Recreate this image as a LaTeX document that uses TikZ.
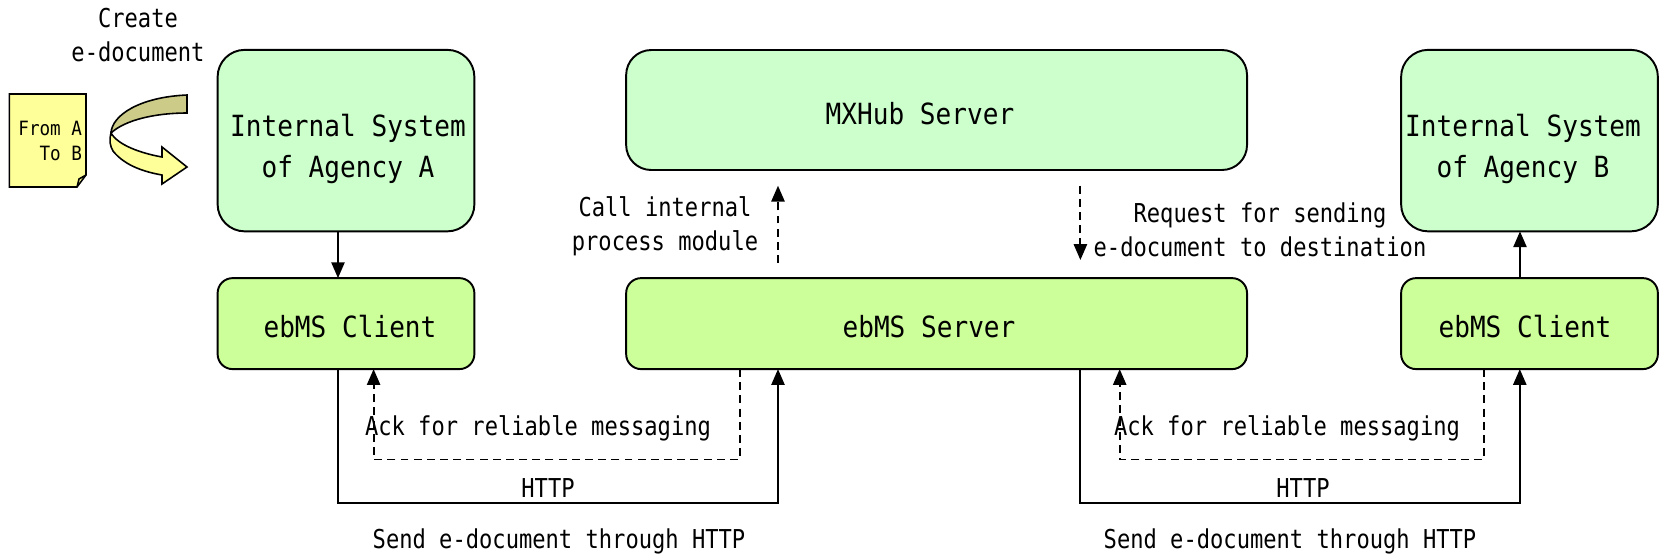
\documentclass[tikz,border=0pt]{standalone}
\usepackage{fontspec}
\newfontfamily\bigf[FakeStretch=0.895]{DejaVu Sans Mono}
\newfontfamily\smf[FakeStretch=0.85]{DejaVu Sans Mono}
\usetikzlibrary{arrows.meta}
\definecolor{sysgreen}{HTML}{CCFFCC}
\definecolor{msgreen}{HTML}{CCFF99}
\definecolor{docyel}{HTML}{FFFF99}
\definecolor{olivebk}{HTML}{CCCC88}
\begin{document}
\begin{tikzpicture}[x=0.02cm,y=-0.02cm,line width=1.1pt,
  bigtext/.style={font=\bigf\fontsize{16.6pt}{23.2pt}\selectfont, inner sep=0pt},
  smtext/.style={font=\smf\fontsize{14.8pt}{19.2pt}\selectfont, inner sep=0pt},
  sysbox/.style={draw, fill=sysgreen, rounded corners=0.54cm, inner sep=0pt, outer sep=0pt,
     minimum width=5.136cm, minimum height=3.63cm},
  mxbox/.style={draw, fill=sysgreen, rounded corners=0.5cm, inner sep=0pt, outer sep=0pt,
     minimum width=12.42cm, minimum height=2.4cm},
  msbox/.style={draw, fill=msgreen, rounded corners=0.3cm, inner sep=0pt, outer sep=0pt,
     minimum height=1.82cm},
  arr/.style={-{Triangle[length=9pt,width=7.5pt]}},
  darr/.style={arr, dash pattern=on 4.5pt off 3pt}]
\useasboundingbox (0,0) rectangle (1661,556);

% boxes
\node[sysbox] (intA) at (346,140.6) {};
\node[bigtext, align=center] (intAt) at (348,149) {Internal System\\of Agency A};
\node[msbox, minimum width=5.136cm] (cliA) at (346,323.6) {};
\node[bigtext] (cliAt) at (350,327) {ebMS Client};
\node[mxbox] (mx) at (936.6,110) {};
\node[bigtext] (mxt) at (920,113.5) {MXHub Server};
\node[msbox, minimum width=12.42cm] (srv) at (936.6,323.6) {};
\node[bigtext] (srvt) at (929,327) {ebMS Server};
\node[sysbox] (intB) at (1529.5,140.6) {};
\node[bigtext, align=center] (intBt) at (1523,149) {Internal System\\of Agency B};
\node[msbox, minimum width=5.136cm] (cliB) at (1529.5,323.6) {};
\node[bigtext] (cliBt) at (1525,327) {ebMS Client};

% document icon
\draw[fill=docyel, line width=0.9pt] (9.3,94) -- (86,94) -- (86,175) -- (77,187) -- (9.3,187) -- cycle;
\draw[line width=0.9pt] (77,187) -- (79,179) -- (86,175);
\node[font=\bigf\fontsize{11.2pt}{14.2pt}\selectfont, align=right, anchor=east, inner sep=0pt] (doc) at (83,140.5) {From A\\To B};

% curved arrow
\draw[fill=olivebk, line width=0.9pt] (187,95) .. controls (140,97) and (112,115) .. (111,133)
  .. controls (125,120) and (155,113) .. (187,113) -- cycle;
\draw[fill=docyel, line width=0.9pt] (111,133) .. controls (109,140) and (110,146) .. (113,151)
  .. controls (125,166) and (145,172) .. (162,175) -- (162,184) -- (187,167) -- (162,147) -- (162,157)
  .. controls (140,153) and (118,145) .. (111,133) -- cycle;

\node[smtext, align=center] (create) at (138,35) {Create\\e-document};

% vertical arrows
\draw[arr] ([xshift=-0.16cm]intA.south) -- ([xshift=-0.16cm]cliA.north);
\draw[arr] ([xshift=-0.19cm]cliB.north) -- ([xshift=-0.19cm]intB.south);

\coordinate (c1) at (778,263);
\coordinate (c2) at (778,185.7);
\draw[darr] (c1) -- (c2);
\coordinate (r1) at (1080.4,185.7);
\coordinate (r2) at (1080.4,260);
\draw[darr] (r1) -- (r2);

\node[smtext, align=center] (call) at (665,226) {Call internal\\process module};
\node[smtext, align=center] (req) at (1260,230) {Request for sending\\e-document to destination};

% left bottom loops
\coordinate (hL1) at (338,503);
\coordinate (hL2) at (778,503);
\draw[arr] (cliA.south -| hL1) -- (hL1) -- (hL2) -- (srv.south -| hL2);
\coordinate (dL1) at (739.7,459.5);
\coordinate (dL2) at (373.6,459.5);
\draw[darr] (srv.south -| dL1) -- (dL1) -- (dL2) -- (cliA.south -| dL2);

% right bottom loops
\coordinate (hR1) at (1080.4,503);
\coordinate (hR2) at (1519.8,503);
\draw[arr] (srv.south -| hR1) -- (hR1) -- (hR2) -- (cliB.south -| hR2);
\coordinate (dR1) at (1483.7,459.5);
\coordinate (dR2) at (1119.7,459.5);
\draw[darr] (cliB.south -| dR1) -- (dR1) -- (dR2) -- (srv.south -| dR2);

% labels
\node[smtext] (ackL) at (538,428) {Ack for reliable messaging};
\node[smtext] (httpL) at (548,488) {HTTP};
\node[smtext] (sendL) at (559,541) {Send e-document through HTTP};
\node[smtext] (ackR) at (1287,428) {Ack for reliable messaging};
\node[smtext] (httpR) at (1303,488) {HTTP};
\node[smtext] (sendR) at (1290,541) {Send e-document through HTTP};
\end{tikzpicture}
\end{document}
